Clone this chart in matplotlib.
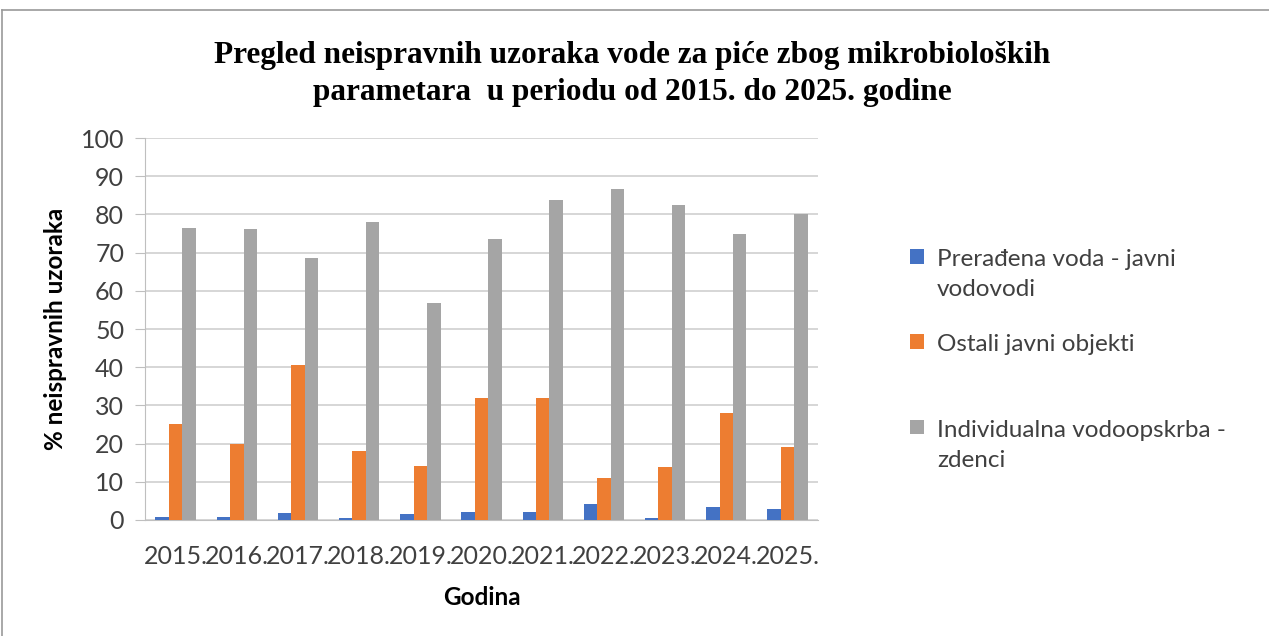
import matplotlib.pyplot as plt
import numpy as np
from matplotlib.lines import Line2D

# Podaci
godine = ["2015.", "2016.", "2017.", "2018.", "2019.", "2020.",
          "2021.", "2022.", "2023.", "2024.", "2025."]
javni_vodovodi = [0.7, 0.7, 1.8, 0.4, 1.5, 2.1, 2.1, 4.1, 0.4, 3.5, 2.8]
ostali_objekti = [25.0, 20.0, 40.5, 18.0, 14.2, 32.0, 32.0, 11.0, 14.0, 28.0, 19.0]
zdenci = [76.5, 76.2, 68.5, 78.0, 56.8, 73.6, 83.7, 86.6, 82.4, 74.9, 80.1]

serije = [
    ("Prerađena voda - javni\nvodovodi", javni_vodovodi, "#4472C4"),
    ("Ostali javni objekti\n", ostali_objekti, "#ED7D31"),
    ("Individualna vodoopskrba -\nzdenci", zdenci, "#A5A5A5"),
]

font = "Lato"
fig = plt.figure(figsize=(12.69, 6.36), dpi=100)
ax = fig.add_axes([0.1143, 0.1824, 0.5303, 0.6006])

x = np.arange(len(godine))
w = 0.22
for i, (naziv, vals, boja) in enumerate(serije):
    ax.bar(x + (i - 1) * w, vals, width=w, color=boja, label=naziv, zorder=3)

ax.set_xlim(-0.5, len(godine) - 0.5)
ax.set_ylim(0, 100)
ax.set_yticks(range(0, 101, 10))
ax.set_xticks(x)
ax.set_xticklabels(godine, fontsize=18, family=font, color="#404040")
ax.tick_params(axis="x", length=0, pad=18)
ax.tick_params(axis="y", length=7, color="#bfbfbf", labelsize=18, pad=8,
               labelcolor="#404040")
for lbl in ax.get_yticklabels():
    lbl.set_family(font)

ax.grid(axis="y", color="#d0d0d0", linewidth=1.2, zorder=0)
for s in ["top", "right"]:
    ax.spines[s].set_visible(False)
ax.spines["left"].set_color("#bfbfbf")
ax.spines["bottom"].set_color("#bfbfbf")

ax.set_ylabel("% neispravnih uzoraka", fontsize=17.5, fontweight="bold",
              family=font, labelpad=10)
ax.set_xlabel("Godina", fontsize=17.5, fontweight="bold", family=font,
              labelpad=13)

fig.suptitle("Pregled neispravnih uzoraka vode za piće zbog mikrobioloških\n"
             "parametara  u periodu od 2015. do 2025. godine",
             family="Liberation Serif", fontweight="bold", fontsize=22.5,
             y=0.935, x=0.498, linespacing=1.36)

leg = fig.legend(loc="upper left", bbox_to_anchor=(0.700, 0.643),
                 frameon=False, prop={"family": font, "size": 17.5},
                 handlelength=0.55, handleheight=0.55, handletextpad=0.55,
                 labelspacing=1.4)
for t in leg.get_texts():
    t.set_color("#404040")
    t.set_linespacing(1.55)
# oznaka uz prvi red teksta (kao u Excelu)
for col in leg._legend_handle_box.get_children():
    for item in col.get_children():
        item.align = "top"

# okvir grafikona
fig.add_artist(Line2D([0.0015, 1], [1 - 10 / 636, 1 - 10 / 636],
                      color="#9a9a9a", lw=1.2, transform=fig.transFigure))
fig.add_artist(Line2D([0.0015, 0.0015], [0, 1 - 10 / 636],
                      color="#9a9a9a", lw=1.2, transform=fig.transFigure))

plt.savefig("out.png", dpi=100)
